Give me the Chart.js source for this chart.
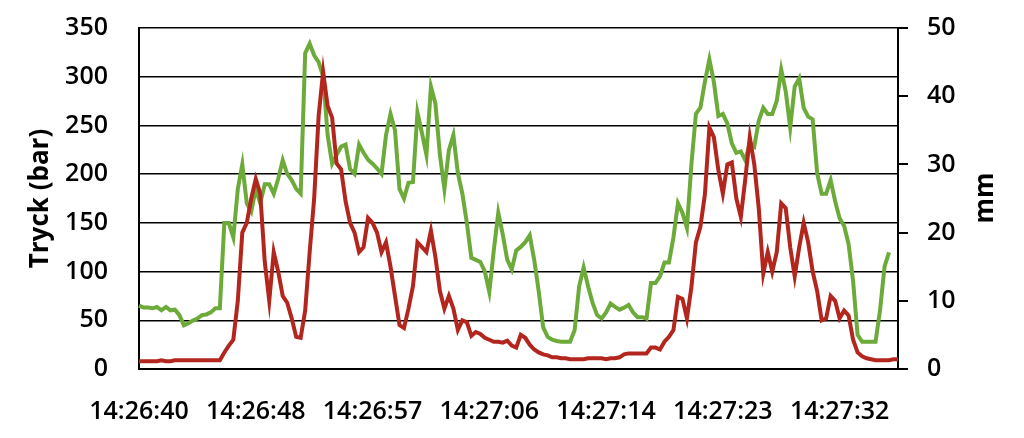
<!DOCTYPE html>
<html>
<head>
<meta charset="utf-8">
<script src="https://cdn.jsdelivr.net/npm/chart.js@4/dist/chart.umd.min.js"></script>
<style>
  body { margin: 0; background: #fff; }
  canvas { display: block; }
</style>
</head>
<body>
<canvas id="myChart" width="1024" height="438"></canvas>
<script>
'use strict';
// tick labels on the time axis, one every 26 samples (3 samples per second)
const tickLabels = ['14:26:40', '14:26:48', '14:26:57', '14:27:06', '14:27:14', '14:27:23', '14:27:32'];
const samplesPerTick = 26;

// pressure, bar (left axis)
const tryck = [
  8, 8, 8, 8, 8, 9, 8, 8, 9, 9, 9, 9, 9, 9, 9, 9, 9, 9, 9,
  17, 24, 30, 70, 140, 150, 175, 195, 180, 110,
  70, 120, 100, 75, 68, 52, 33, 32, 60, 120,
  175, 260, 305, 270, 258, 211, 205, 172, 150, 140,
  120, 125, 155, 150, 140, 120, 130, 105, 75, 45,
  42, 62, 85, 130, 125, 120, 142, 115, 80, 62,
  75, 62, 40, 50, 48, 34, 38, 36, 32, 30,
  28, 28, 27, 29, 24, 22, 35, 32, 25, 20,
  17, 15, 14, 12, 12, 11, 11, 10, 10, 10,
  10, 11, 11, 11, 11, 10, 11, 11, 12, 15,
  16, 16, 16, 16, 16, 22, 22, 20, 28, 33,
  40, 74, 72, 52, 84, 130, 146, 179, 248, 238,
  204, 180, 210, 212, 175, 156, 195, 238, 210, 165,
  98, 120, 100, 120, 170, 165, 125, 95, 125, 150,
  130, 100, 80, 50, 52, 75, 70, 52, 60, 55,
  30, 17, 13, 11, 10, 9, 9, 9, 9, 10, 10
];

// displacement, mm (right axis)
const mm = [
  9.3, 9.0, 9.0, 8.9, 9.1, 8.6, 9.1, 8.6, 8.7, 7.9,
  6.4, 6.7, 7.1, 7.4, 7.9, 8.0, 8.3, 8.9, 8.9, 21.4,
  21.4, 19.3, 26.4, 30.0, 24.3, 23.1, 26.4, 24.3, 27.1, 27.1,
  25.7, 27.9, 30.6, 28.6, 27.7, 26.4, 25.7, 46.3, 47.7, 46.0,
  45.0, 42.9, 34.3, 30.1, 31.4, 32.6, 32.9, 29.3, 28.6, 32.9,
  31.7, 30.7, 30.1, 29.4, 28.6, 34.3, 37.4, 35.0, 26.4, 25.0,
  27.3, 27.4, 37.6, 34.6, 31.4, 41.4, 38.9, 31.4, 26.4, 32.1,
  34.3, 28.7, 25.7, 21.4, 16.3, 16.0, 15.7, 14.3, 11.3, 17.4,
  22.9, 19.7, 16.0, 14.6, 17.4, 17.9, 18.6, 19.6, 16.0, 11.4,
  6.1, 4.7, 4.3, 4.1, 4.0, 4.0, 4.0, 5.7, 12.1, 14.9,
  12.1, 9.7, 7.9, 7.4, 8.3, 9.6, 9.1, 8.7, 9.0, 9.4,
  8.3, 7.6, 7.6, 7.4, 12.6, 12.6, 13.6, 15.6, 15.6, 19.3,
  24.3, 22.9, 20.7, 30.0, 37.4, 38.3, 42.1, 45.4, 42.1, 37.1,
  37.4, 36.0, 33.1, 31.7, 31.9, 30.6, 33.1, 32.6, 36.4, 38.3,
  37.4, 37.4, 39.3, 43.9, 40.7, 35.4, 41.4, 42.6, 38.3, 37.0,
  36.6, 28.7, 25.7, 25.7, 27.7, 24.6, 22.1, 21.0, 18.3, 12.9,
  5.0, 4.0, 4.0, 4.0, 4.0, 8.6, 15.0, 17.1, null, null
];

// sample times, 3 per second from 14:26:40
let categories = [];
for (let i = 0; i < tryck.length; i++) {
  let s = 26 * 60 + 40 + i / 3;
  let min = Math.floor(s / 60);
  let sec = (s - min * 60).toFixed(2);
  categories.push(`14:${min}:${sec}`);
}

const tickFont = { family: 'Open Sans', size: 25, weight: '600' };
const titleFont = { family: 'Open Sans', size: 26, weight: 'bold' };

// "mm" reads bottom-to-top like the left title
const rightTitle = {
  id: 'rightTitle',
  afterDraw(chart) {
    const ctx = chart.ctx;
    ctx.save();
    ctx.translate(986, 198);
    ctx.rotate(-Math.PI / 2);
    ctx.font = 'bold 26px "Open Sans"';
    ctx.fillStyle = '#000';
    ctx.textAlign = 'center';
    ctx.textBaseline = 'middle';
    ctx.fillText('mm', 0, 0);
    ctx.restore();
  }
};

function fitY(width) {
  return function (scale) {
    scale.width = width;
    scale.paddingTop = 0;
    scale.paddingBottom = 0;
  };
}

const data = {
  labels: categories,
  datasets: [
    {
      label: 'Tryck (bar)',
      data: tryck,
      yAxisID: 'y',
      borderColor: '#B3261E',
      borderWidth: 4,
      pointRadius: 0,
      tension: 0,
    },
    {
      label: 'mm',
      data: mm,
      yAxisID: 'y1',
      borderColor: '#6CAA3A',
      borderWidth: 4,
      pointRadius: 0,
      tension: 0,
    },
  ],
};

const config = {
  type: 'line',
  data: data,
  plugins: [rightTitle],
  options: {
    responsive: false,
    animation: false,
    layout: { padding: { top: 28, left: 0, right: 0, bottom: 0 } },
    plugins: { legend: { display: false }, tooltip: { enabled: false } },
    scales: {
      x: {
        grid: { display: false, drawTicks: false },
        border: { display: true, color: '#000', width: 2 },
        ticks: {
          autoSkip: false,
          maxRotation: 0,
          padding: 28,
          color: '#000',
          font: tickFont,
          callback: function (val, index) {
            return index % samplesPerTick === 0 ? tickLabels[index / samplesPerTick] : null;
          },
        },
        afterFit: function (scale) { scale.height = 69; },
      },
      y: {
        position: 'left',
        min: 0,
        max: 350,
        ticks: { stepSize: 50, padding: 31, color: '#000', font: tickFont },
        grid: { color: '#000', lineWidth: 1.5, drawTicks: false },
        border: { display: true, color: '#000', width: 2 },
        title: { display: true, text: 'Tryck (bar)', color: '#000', font: titleFont, padding: { top: 25, bottom: 0 } },
        afterFit: fitY(139),
      },
      y1: {
        position: 'right',
        min: 0,
        max: 50,
        ticks: { stepSize: 10, padding: 19, color: '#000', font: tickFont },
        grid: { drawOnChartArea: false, drawTicks: true, tickLength: 10, color: '#000', lineWidth: 2 },
        border: { display: true, color: '#000', width: 2 },
        afterFit: fitY(126),
      },
    },
  },
};

let canvasChart = document.getElementById('myChart');
const myChart = new Chart(canvasChart, config);
</script>
</body>
</html>
